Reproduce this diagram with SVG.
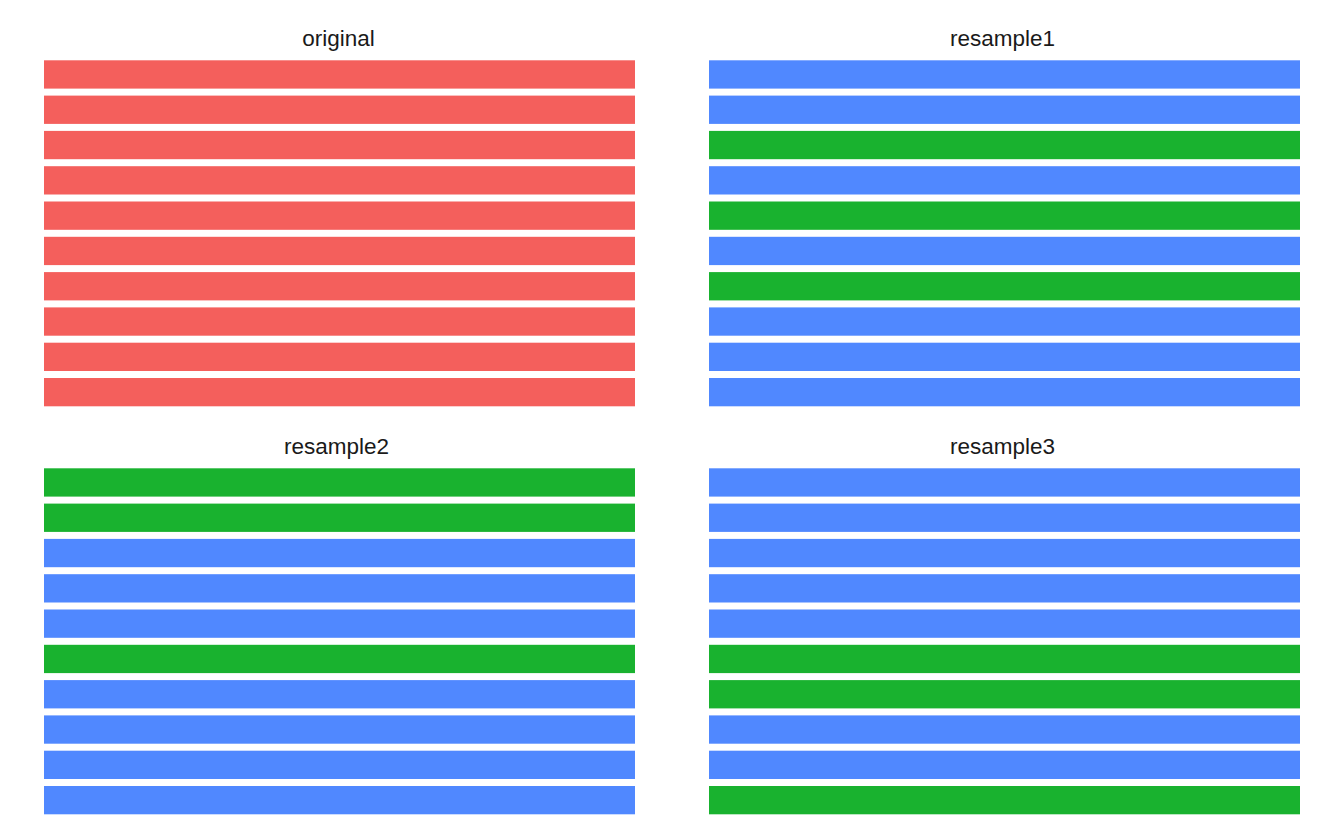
<svg xmlns="http://www.w3.org/2000/svg" width="1344" height="830" viewBox="0 0 1344 830">
<style>
.t{font-family:"Liberation Sans",Arial,sans-serif;font-size:22.5px;fill:#1a1a1a;text-anchor:middle}
.r{fill:#F45F5C}.b{fill:#5088FF}.g{fill:#19B22F}
</style>
<defs>
<rect id="L" x="44" width="591" height="28.3"/>
<rect id="R" x="709" width="591" height="28.3"/>
</defs>
<rect width="1344" height="830" fill="#fff"/>
<g id="original">
<text class="t" x="338.5" y="45.5">original</text>
<use href="#L" class="r" y="60.3"/><use href="#L" class="r" y="95.6"/><use href="#L" class="r" y="130.9"/><use href="#L" class="r" y="166.2"/><use href="#L" class="r" y="201.5"/><use href="#L" class="r" y="236.8"/><use href="#L" class="r" y="272.1"/><use href="#L" class="r" y="307.4"/><use href="#L" class="r" y="342.7"/><use href="#L" class="r" y="378"/>
</g>
<g id="resample1">
<text class="t" x="1002.5" y="45.5">resample1</text>
<use href="#R" class="b" y="60.3"/><use href="#R" class="b" y="95.6"/><use href="#R" class="g" y="130.9"/><use href="#R" class="b" y="166.2"/><use href="#R" class="g" y="201.5"/><use href="#R" class="b" y="236.8"/><use href="#R" class="g" y="272.1"/><use href="#R" class="b" y="307.4"/><use href="#R" class="b" y="342.7"/><use href="#R" class="b" y="378"/>
</g>
<g id="resample2">
<text class="t" x="336.5" y="453.5">resample2</text>
<use href="#L" class="g" y="468.3"/><use href="#L" class="g" y="503.6"/><use href="#L" class="b" y="538.9"/><use href="#L" class="b" y="574.2"/><use href="#L" class="b" y="609.5"/><use href="#L" class="g" y="644.8"/><use href="#L" class="b" y="680.1"/><use href="#L" class="b" y="715.4"/><use href="#L" class="b" y="750.7"/><use href="#L" class="b" y="786"/>
</g>
<g id="resample3">
<text class="t" x="1002.5" y="453.5">resample3</text>
<use href="#R" class="b" y="468.3"/><use href="#R" class="b" y="503.6"/><use href="#R" class="b" y="538.9"/><use href="#R" class="b" y="574.2"/><use href="#R" class="b" y="609.5"/><use href="#R" class="g" y="644.8"/><use href="#R" class="g" y="680.1"/><use href="#R" class="b" y="715.4"/><use href="#R" class="b" y="750.7"/><use href="#R" class="g" y="786"/>
</g>
<g id="connectors"/>
</svg>
